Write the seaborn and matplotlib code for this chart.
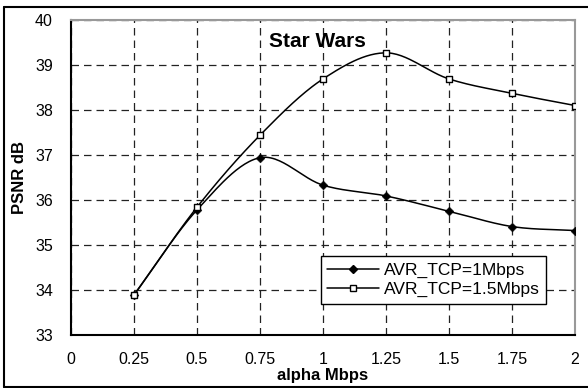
import numpy as np
import pandas as pd
import matplotlib
matplotlib.use("Agg")
import matplotlib.pyplot as plt
import seaborn as sns
from matplotlib.lines import Line2D

alpha = [0.25, 0.5, 0.75, 1.0, 1.25, 1.5, 1.75, 2.0]
psnr_1mbps = [33.89, 35.78, 36.94, 36.33, 36.09, 35.75, 35.41, 35.32]
psnr_15mbps = [33.89, 35.84, 37.44, 38.69, 39.27, 38.69, 38.37, 38.10]
series_names = ["AVR_TCP=1Mbps", "AVR_TCP=1.5Mbps"]
x_ticks = [0, 0.25, 0.5, 0.75, 1, 1.25, 1.5, 1.75, 2]
x_tick_labels = ["0", "0.25", "0.5", "0.75", "1", "1.25", "1.5", "1.75", "2"]
y_ticks = [33, 34, 35, 36, 37, 38, 39, 40]

sns.set_theme(style="white")
plt.rcParams["font.family"] = ["Liberation Sans", "DejaVu Sans"]
plt.rcParams["text.color"] = "black"
plt.rcParams["axes.labelcolor"] = "black"

df = pd.DataFrame({
    "alpha": alpha * 2,
    "psnr": psnr_1mbps + psnr_15mbps,
    "series": [series_names[0]] * len(alpha) + [series_names[1]] * len(alpha),
})

fig = plt.figure(figsize=(5.88, 3.88), dpi=100)
ax = fig.add_axes([71 / 588, 1 - 335 / 388, (575 - 71) / 588, (335 - 20) / 388])


def smooth(xs, ys, n=30):
    """Catmull-Rom curve through the points, for a smoothed line."""
    xs = np.asarray(xs, float)
    ys = np.asarray(ys, float)
    px = np.concatenate([[2 * xs[0] - xs[1]], xs, [2 * xs[-1] - xs[-2]]])
    py = np.concatenate([[2 * ys[0] - ys[1]], ys, [2 * ys[-1] - ys[-2]]])
    out_x, out_y = [], []
    t = np.linspace(0, 1, n)
    for i in range(1, len(px) - 2):
        for arr, out in ((px, out_x), (py, out_y)):
            p0, p1, p2, p3 = arr[i - 1], arr[i], arr[i + 1], arr[i + 2]
            seg = 0.5 * ((2 * p1) + (-p0 + p2) * t
                         + (2 * p0 - 5 * p1 + 4 * p2 - p3) * t ** 2
                         + (-p0 + 3 * p1 - 3 * p2 + p3) * t ** 3)
            out.extend(seg.tolist())
    return np.array(out_x), np.array(out_y)


for vals in (psnr_1mbps, psnr_15mbps):
    sx, sy = smooth(alpha, vals)
    ax.plot(sx, sy, color="black", lw=1.1, zorder=3)

sns.scatterplot(data=df[df.series == series_names[0]], x="alpha", y="psnr",
                marker="D", s=20, color="black", edgecolor="black",
                ax=ax, zorder=4, legend=False)
sns.scatterplot(data=df[df.series == series_names[1]], x="alpha", y="psnr",
                marker="s", s=18, facecolor="white", edgecolor="black",
                linewidth=1.0, ax=ax, zorder=4, legend=False)

ax.set_xlim(0, 2)
ax.set_ylim(33, 40)
ax.set_xticks(x_ticks)
ax.set_xticklabels(x_tick_labels)
ax.set_yticks(y_ticks)
ax.grid(True, color="#222222", linestyle=(0, (6, 4)), linewidth=0.9)
ax.tick_params(axis="both", direction="in", length=4, width=1, color="black",
               labelsize=11.5, labelcolor="black")
ax.tick_params(axis="x", pad=12)
ax.tick_params(axis="y", pad=13)
for side in ("left", "bottom"):
    ax.spines[side].set_color("black")
    ax.spines[side].set_linewidth(1.5)
for side in ("top", "right"):
    ax.spines[side].set_color("#999999")
    ax.spines[side].set_linewidth(1.5)

ax.set_xlabel("alpha Mbps", fontsize=12, fontweight="bold", labelpad=1,
              color="black")
ax.set_ylabel("PSNR dB", fontsize=12, fontweight="bold", labelpad=6,
              color="black")

ax.text(0.393, 0.933, "Star Wars", transform=ax.transAxes, fontsize=15,
        fontweight="bold", ha="left", va="center", color="black")

handles = [
    Line2D([0], [0], color="black", lw=1.1, marker="D", markersize=4.5,
           markerfacecolor="black"),
    Line2D([0], [0], color="black", lw=1.1, marker="s", markersize=4.5,
           markerfacecolor="white"),
]
leg = ax.legend(handles, series_names, loc="lower right",
                bbox_to_anchor=(0.9426, 0.10), fontsize=12.5, frameon=True,
                fancybox=False, edgecolor="black", framealpha=1,
                borderpad=0.35, handlelength=3.0, handletextpad=0.3,
                labelspacing=0.25, borderaxespad=0)
leg.get_frame().set_linewidth(1.0)
for t in leg.get_texts():
    t.set_color("black")

# Outer border around the whole figure
for xs, ys in (([4, 592], [7, 7]), ([4, 4], [7, 387]), ([4, 592], [387, 387])):
    fig.add_artist(Line2D([x / 588 for x in xs], [1 - y / 388 for y in ys],
                          color="black", lw=1.5, transform=fig.transFigure))

fig.savefig("out.png", dpi=100)
